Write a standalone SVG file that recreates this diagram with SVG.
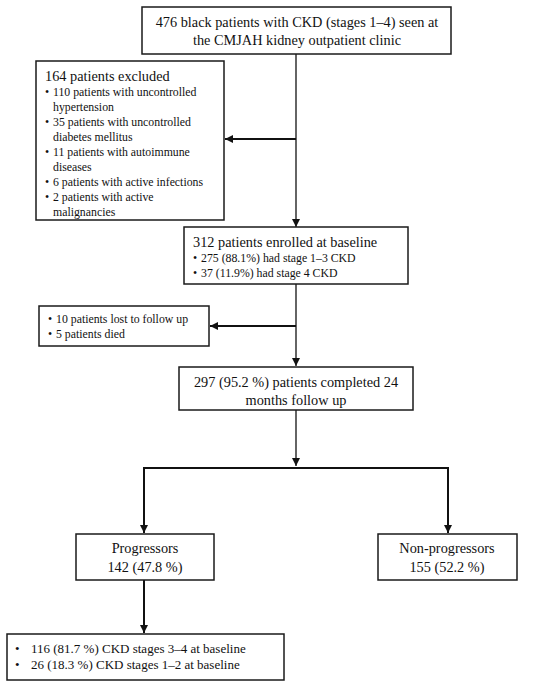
<svg xmlns="http://www.w3.org/2000/svg" width="550" height="686" viewBox="0 0 550 686">
<style>
.box{fill:#fff;stroke:#1a1a1a;stroke-width:1.5}
.t{font-family:"Liberation Serif","Times New Roman",serif;fill:#111}
.big{font-size:14.3px}
.sm{font-size:11.8px}
.bt{font-size:13px}
.c{text-anchor:middle}
.ln{stroke:#111;stroke-width:1.3;fill:none}
.lnb{stroke:#111;stroke-width:2;fill:none}
</style>
<defs>
<marker id="ah" viewBox="0 0 10 10" refX="10" refY="5" markerWidth="8" markerHeight="8" markerUnits="userSpaceOnUse" orient="auto">
<path d="M0,0 L10,5 L0,10 z" fill="#111"/>
</marker>
</defs>
<rect width="550" height="686" fill="#fff"/>
<g id="connectors">
<line class="ln" x1="296" y1="54" x2="296" y2="227" marker-end="url(#ah)"/>
<line class="lnb" x1="296" y1="139" x2="225" y2="139" marker-end="url(#ah)"/>
<line class="ln" x1="296" y1="284" x2="296" y2="366" marker-end="url(#ah)"/>
<line class="lnb" x1="296" y1="326" x2="210" y2="326" marker-end="url(#ah)"/>
<line class="ln" x1="296" y1="410" x2="296" y2="466" marker-end="url(#ah)"/>
<polyline class="lnb" points="144,533 144,468 448,468 448,533"/>
<line class="lnb" x1="144" y1="500" x2="144" y2="533" marker-end="url(#ah)"/>
<line class="lnb" x1="448" y1="500" x2="448" y2="533" marker-end="url(#ah)"/>
<line class="lnb" x1="144" y1="580" x2="144" y2="633" marker-end="url(#ah)"/>
</g>
<g id="n1">
<rect class="box" x="142" y="7" width="309" height="47"/>
<text class="t big c" x="297" y="27">476 black patients with CKD (stages 1–4) seen at</text>
<text class="t big c" x="297" y="45">the CMJAH kidney outpatient clinic</text>
</g>
<g id="n2">
<rect class="box" x="36" y="61" width="188" height="159"/>
<text class="t big" x="45" y="81">164 patients excluded</text>
<g class="t sm">
<text x="45" y="96">•</text><text x="53" y="96">110 patients with uncontrolled</text>
<text x="53" y="111">hypertension</text>
<text x="45" y="126">•</text><text x="53" y="126">35 patients with uncontrolled</text>
<text x="53" y="141">diabetes mellitus</text>
<text x="45" y="156">•</text><text x="53" y="156">11 patients with autoimmune</text>
<text x="53" y="171">diseases</text>
<text x="45" y="186">•</text><text x="53" y="186">6 patients with active infections</text>
<text x="45" y="201">•</text><text x="53" y="201">2 patients with active</text>
<text x="53" y="216">malignancies</text>
</g>
</g>
<g id="n3">
<rect class="box" x="184" y="227" width="224" height="57"/>
<text class="t big" x="193" y="247">312 patients enrolled at baseline</text>
<g class="t sm">
<text x="193" y="262">•</text><text x="201" y="262">275 (88.1%) had stage 1–3 CKD</text>
<text x="193" y="277">•</text><text x="201" y="277">37 (11.9%) had stage 4 CKD</text>
</g>
</g>
<g id="n4">
<rect class="box" x="39" y="306" width="170" height="40"/>
<g class="t sm">
<text x="48" y="323">•</text><text x="56" y="323">10 patients lost to follow up</text>
<text x="48" y="338">•</text><text x="56" y="338">5 patients died</text>
</g>
</g>
<g id="n5">
<rect class="box" x="179" y="367" width="234" height="43"/>
<text class="t big c" x="296" y="387">297 (95.2 %) patients completed 24</text>
<text class="t big c" x="296" y="405">months follow up</text>
</g>
<g id="n6">
<rect class="box" x="76" y="534" width="138" height="46"/>
<text class="t big c" x="145" y="553">Progressors</text>
<text class="t big c" x="145" y="572">142 (47.8 %)</text>
</g>
<g id="n7">
<rect class="box" x="378" y="534" width="139" height="46"/>
<text class="t big c" x="447" y="553">Non-progressors</text>
<text class="t big c" x="447" y="572">155 (52.2 %)</text>
</g>
<g id="n8">
<rect class="box" x="7" y="634" width="277" height="46"/>
<g class="t bt">
<text x="15" y="653">•</text><text x="31" y="653">116 (81.7 %) CKD stages 3–4 at baseline</text>
<text x="15" y="669">•</text><text x="31" y="669">26 (18.3 %) CKD stages 1–2 at baseline</text>
</g>
</g>
</svg>
